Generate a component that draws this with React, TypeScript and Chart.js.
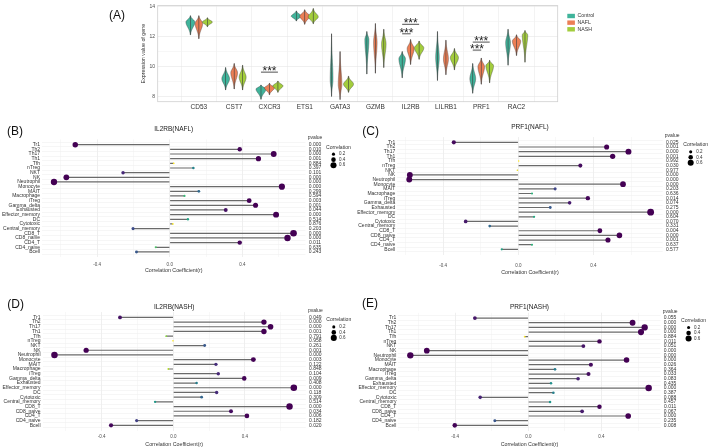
import React, { useEffect, useRef } from "react";
import { Chart, registerables } from "chart.js";
Chart.register(...registerables);

const FONT = "'Liberation Sans', Arial, Helvetica, sans-serif";

// ---------- Panel A data ----------
const genes = ["CD53", "CST7", "CXCR3", "ETS1", "GATA3", "GZMB", "IL2RB", "LILRB1", "PRF1", "RAC2"];
const groups = ["Control", "NAFL", "NASH"];
const groupColors = ["#40B49B", "#EC7F56", "#A3CD3D"];
// [min, mode, max] expression per gene
const controlExpr = [[12.11, 12.96, 13.38], [8.46, 9.2, 9.94], [7.84, 8.52, 8.79], [13.03, 13.35, 13.7], [8.03, 9.15, 12.18], [9.51, 11.8, 12.33], [9.26, 10.53, 11.0], [9.09, 10.6, 12.33], [8.24, 9.2, 10.21], [10.1, 11.6, 12.48]];
const naflExpr = [[11.86, 12.86, 13.38], [8.52, 9.6, 10.21], [8.14, 8.6, 8.9], [12.81, 13.35, 13.77], [7.82, 8.84, 11.0], [9.57, 11.6, 12.86], [10.15, 11.2, 11.8], [9.47, 10.5, 11.76], [8.84, 10.0, 10.57], [10.74, 11.7, 12.11]];
const nashExpr = [[12.65, 12.96, 13.24], [8.46, 9.3, 10.1], [8.3, 8.73, 9.05], [12.85, 13.3, 13.85], [8.3, 8.84, 9.37], [9.94, 11.5, 12.48], [10.49, 11.25, 11.7], [9.79, 10.6, 11.2], [8.94, 10.07, 10.42], [10.3, 12.1, 12.4]];
const exprTicks = [8, 9, 10, 11, 12, 13, 14];
const exprTickLabels = ["8", "", "10", "", "12", "", "14"];
const exprMin = 7.68;
const exprMax = 14.05;
// significance brackets
const sigGene = ["CXCR3", "IL2RB", "IL2RB", "PRF1", "PRF1"];
const sigFrom = [0, 0, 0, 0, 0];
const sigTo = [2, 1, 2, 1, 2];
const sigY = [9.64, 12.18, 12.81, 11.1, 11.63];
const sigLabel = "***";

// ---------- Lollipop data ----------
const cellTypes = ["Tr1", "Th2", "Th17", "Th1", "Tfh", "nTreg", "NKT", "NK", "Neutrophil", "Monocyte", "MAIT", "Macrophage", "iTreg", "Gamma_delta", "Exhausted", "Effector_memory", "DC", "Cytotoxic", "Central_memory", "CD8_T", "CD8_naive", "CD4_T", "CD4_naive", "Bcell"];
const il2rbNaflR = [-0.52, 0.385, 0.572, 0.488, 0.022, 0.13, -0.257, -0.569, -0.637, 0.617, 0.16, 0.081, 0.437, 0.472, 0.308, 0.585, 0.1, 0.017, -0.202, 0.681, 0.648, 0.385, -0.077, -0.183];
const il2rbNaflP = ["0.000", "0.010", "0.000", "0.001", "0.884", "0.397", "0.101", "0.000", "0.000", "0.000", "0.299", "0.594", "0.003", "0.001", "0.044", "0.000", "0.514", "0.876", "0.203", "0.000", "0.000", "0.011", "0.635", "0.243"];
const prf1NaflR = [-0.343, 0.47, 0.586, 0.502, 0.002, 0.33, -0.005, -0.577, -0.58, 0.557, 0.196, 0.073, 0.37, 0.273, 0.17, 0.704, 0.084, -0.28, -0.152, 0.434, 0.538, 0.477, 0.073, -0.088];
const prf1NaflP = ["0.025", "0.001", "0.000", "0.001", "0.992", "0.030", "0.977", "0.000", "0.000", "0.000", "0.203", "0.636", "0.014", "0.074", "0.275", "0.000", "0.604", "0.070", "0.331", "0.004", "0.000", "0.001", "0.637", "0.577"];
const il2rbNashR = [-0.298, 0.506, 0.543, 0.506, -0.04, -0.002, 0.175, -0.487, -0.664, 0.447, 0.238, -0.028, 0.251, 0.396, 0.13, 0.673, 0.242, 0.158, -0.102, 0.649, 0.322, 0.411, -0.205, -0.348];
const il2rbNashP = ["0.049", "0.000", "0.000", "0.001", "0.791", "0.958", "0.261", "0.001", "0.000", "0.003", "0.122", "0.848", "0.104", "0.009", "0.408", "0.000", "0.118", "0.309", "0.514", "0.000", "0.034", "0.006", "0.182", "0.020"];
const prf1NashR = [-0.292, 0.57, 0.636, 0.616, -0.02, 0.389, 0.301, -0.555, -0.645, 0.537, 0.342, 0.146, 0.329, 0.272, 0.124, 0.658, 0.137, -0.263, 0.119, 0.389, 0.294, 0.546, -0.183, -0.402];
const prf1NashP = ["0.055", "0.000", "0.000", "0.000", "0.884", "0.011", "0.051", "0.000", "0.000", "0.000", "0.026", "0.364", "0.033", "0.083", "0.435", "0.000", "0.387", "0.088", "0.457", "0.011", "0.067", "0.000", "0.235", "0.008"];
const corrTicks = [-0.6, -0.4, -0.2, 0, 0.2, 0.4, 0.6];
const corrTickLabels = ["", "-0.4", "", "0.0", "", "0.4", ""];
const corrLegend = [0.2, 0.4, 0.6];

// ---------- helpers ----------
const VIRIDIS = ["#440154", "#482475", "#414487", "#355F8D", "#2A788E", "#21918C", "#22A884", "#44BF70", "#7AD151", "#BDDF26", "#FDE725"];
function hexRgb(h: string) {
  return [parseInt(h.slice(1, 3), 16), parseInt(h.slice(3, 5), 16), parseInt(h.slice(5, 7), 16)];
}
function viridis(t: number) {
  t = Math.max(0, Math.min(1, t));
  const s = t * 10;
  const i = Math.min(9, Math.floor(s));
  const f = s - i;
  const a = hexRgb(VIRIDIS[i]);
  const b = hexRgb(VIRIDIS[i + 1]);
  const c = a.map((v, k) => Math.round(v + (b[k] - v) * f));
  return `rgb(${c[0]},${c[1]},${c[2]})`;
}
const dotRadius = (r: number) => 0.8 + 3.7 * Math.abs(r);

type PanelCfg = {
  key: string; label: string; title: string; r: number[]; p: string[];
  left: number; top: number; W: number; H: number;
  cl: number; cr: number; ct: number; cb: number;
  titleY: number; tickY: number; axTitleY: number; labelX: number; labelY: number;
};

const panels: PanelCfg[] = [
  { key: "B", label: "(B)", title: "IL2RB(NAFL)", r: il2rbNaflR, p: il2rbNaflP, left: 0, top: 115, W: 355, H: 170, cl: 42, cr: 305.5, ct: 24.4, cb: 142.2, titleY: 14, tickY: 150, axTitleY: 155.6, labelX: 7, labelY: 17 },
  { key: "C", label: "(C)", title: "PRF1(NAFL)", r: prf1NaflR, p: prf1NaflP, left: 355, top: 115, W: 354, H: 170, cl: 42.2, cr: 307.7, ct: 22.1, cb: 139.6, titleY: 12.7, tickY: 150.7, axTitleY: 157.7, labelX: 7.3, labelY: 16.7 },
  { key: "D", label: "(D)", title: "IL2RB(NASH)", r: il2rbNashR, p: il2rbNashP, left: 0, top: 285, W: 355, H: 163, cl: 42.5, cr: 305.8, ct: 27.1, cb: 145.6, titleY: 22.7, tickY: 151.7, axTitleY: 159.3, labelX: 7.3, labelY: 20 },
  { key: "E", label: "(E)", title: "PRF1(NASH)", r: prf1NashR, p: prf1NashP, left: 355, top: 285, W: 354, H: 163, cl: 43.4, cr: 305.6, ct: 27.8, cb: 145.6, titleY: 22.7, tickY: 151.7, axTitleY: 159.3, labelX: 7, labelY: 19 },
];

function makeLollipop(canvas: HTMLCanvasElement, cfg: PanelCfg) {
  const n = cellTypes.length;
  const pNum = cfg.p.map(Number);
  const pMax = Math.max(...pNum);
  const lo = Math.min(0, ...cfg.r);
  const hi = Math.max(0, ...cfg.r);
  const span = hi - lo;
  const xMin = lo - 0.05 * span;
  const xMax = hi + 0.05 * span;
  const xAxisH = cfg.H - cfg.cb;
  const tickFont = 4.5;
  const tickPad = cfg.tickY - cfg.cb - (tickFont * 1.2) / 2;
  const axFont = 5.3;
  const axPadB = cfg.H - cfg.axTitleY - (axFont * 1.2) / 2;

  const extras = {
    id: "extras" + cfg.key,
    afterDraw(chart: any) {
      const { ctx, chartArea, scales } = chart;
      const ys = scales.y;
      ctx.save();
      ctx.textBaseline = "middle";
      ctx.fillStyle = "#111";
      ctx.textAlign = "left";
      ctx.font = `12px ${FONT}`;
      ctx.fillText(cfg.label, cfg.labelX, cfg.labelY);
      ctx.textAlign = "center";
      ctx.font = `6.5px ${FONT}`;
      ctx.fillStyle = "#1a1a1a";
      ctx.fillText(cfg.title, (chartArea.left + chartArea.right) / 2, cfg.titleY);
      ctx.font = `5px ${FONT}`;
      ctx.fillStyle = "#333";
      const px = chartArea.right + 9.5;
      const y0 = ys.getPixelForValue(0);
      ctx.fillText("pvalue", px, y0 - 6.8);
      cfg.p.forEach((s, i) => ctx.fillText(s, px, ys.getPixelForValue(i)));
      ctx.textAlign = "left";
      ctx.font = `5.1px ${FONT}`;
      ctx.fillText("Correlation", chartArea.right + 20.5, y0 + 2.5);
      corrLegend.forEach((v, k) => {
        const cy = y0 + 9.5 + k * 5.5;
        const cx = chartArea.right + 28;
        ctx.beginPath();
        ctx.arc(cx, cy, dotRadius(v), 0, Math.PI * 2);
        ctx.fillStyle = "#000";
        ctx.fill();
        ctx.fillStyle = "#333";
        ctx.font = `4.5px ${FONT}`;
        ctx.fillText(v.toFixed(1), cx + 5.5, cy);
      });
      ctx.restore();
    },
  };

  return new Chart(canvas, {
    type: "scatter",
    data: {
      datasets: [
        {
          type: "scatter",
          data: cfg.r.map((v, i) => ({ x: v, y: i })),
          pointRadius: cfg.r.map(dotRadius),
          pointBackgroundColor: pNum.map((p) => viridis(p / pMax)),
          pointBorderWidth: 0,
          order: 0,
        } as any,
        {
          type: "bar",
          indexAxis: "y",
          data: cfg.r.map((v, i) => ({ x: [0, v], y: i })),
          backgroundColor: "#6A6A6A",
          barThickness: 1.2,
          maxBarThickness: 1.2,
          grouped: false,
          borderWidth: 0,
          inflateAmount: 0,
          order: 1,
        } as any,
      ],
    },
    options: {
      responsive: false,
      animation: false,
      devicePixelRatio: 1,
      events: [],
      layout: { padding: { left: 0, right: cfg.W - cfg.cr, top: cfg.ct, bottom: 0 } },
      plugins: { legend: { display: false }, tooltip: { enabled: false }, title: { display: false } },
      scales: {
        x: {
          type: "linear",
          position: "bottom",
          min: xMin,
          max: xMax,
          afterBuildTicks: (s: any) => {
            s.ticks = corrTicks.filter((v) => v >= xMin && v <= xMax).map((v) => ({ value: v }));
          },
          afterFit: (s: any) => {
            s.height = xAxisH;
          },
          ticks: {
            autoSkip: false,
            maxRotation: 0,
            padding: tickPad,
            color: "#4D4D4D",
            font: { family: FONT, size: tickFont },
            callback: (v: any) => corrTickLabels[corrTicks.indexOf(v)] ?? "",
          },
          grid: {
            drawTicks: false,
            color: (c: any) => (corrTickLabels[corrTicks.indexOf(c.tick?.value)] ? "#E8E8E8" : "#F1F1F1"),
            lineWidth: (c: any) => (corrTickLabels[corrTicks.indexOf(c.tick?.value)] ? 0.7 : 0.5),
          },
          border: { display: false },
          title: {
            display: true,
            text: "Correlation Coefficient(r)",
            color: "#333",
            font: { family: FONT, size: axFont },
            padding: { top: 0, bottom: axPadB },
          },
        },
        y: {
          type: "linear",
          min: -0.6,
          max: n - 1 + 0.6,
          reverse: true,
          afterBuildTicks: (s: any) => {
            s.ticks = cellTypes.map((_, i) => ({ value: i }));
          },
          afterFit: (s: any) => {
            s.width = cfg.cl;
          },
          ticks: {
            autoSkip: false,
            padding: 2,
            color: "#333",
            font: { family: FONT, size: 5 },
            callback: (v: any) => cellTypes[v] ?? "",
          },
          grid: { drawTicks: false, color: "#EDEDED", lineWidth: 0.5 },
          border: { display: false },
        },
      },
    } as any,
    plugins: [extras],
  });
}

function makeExpr(canvas: HTMLCanvasElement) {
  const groupsData = [controlExpr, naflExpr, nashExpr];
  const offsets = [-0.24, 0, 0.24];
  const W = 709, H = 115;
  const cl = 157.7, cr = 557.7, ct = 1.5, cb = 101.7;
  const yAxisW = 22;
  const xFont = 6.5;

  const violins = {
    id: "violins",
    beforeDatasetsDraw(chart: any) {
      const { ctx, scales } = chart;
      const xs = scales.x, ys = scales.y;
      ctx.save();
      groupsData.forEach((arr, g) =>
        arr.forEach((d, i) => {
          const cx = xs.getPixelForValue(i + offsets[g]);
          const [mn, md, mx] = d;
          const halfW = Math.min(5, 5.7 / (mx - mn));
          const N = 48;
          const pts: [number, number][] = [];
          for (let k = 0; k <= N; k++) {
            const v = mx - ((mx - mn) * k) / N;
            const t = v >= md ? (v - md) / Math.max(1e-6, mx - md) : (md - v) / Math.max(1e-6, md - mn);
            const w = halfW * Math.exp(-3.2 * t * t);
            pts.push([w, ys.getPixelForValue(v)]);
          }
          ctx.beginPath();
          pts.forEach(([w, y], k) => (k === 0 ? ctx.moveTo(cx + w, y) : ctx.lineTo(cx + w, y)));
          for (let k = pts.length - 1; k >= 0; k--) ctx.lineTo(cx - pts[k][0], pts[k][1]);
          ctx.closePath();
          ctx.fillStyle = groupColors[g];
          ctx.fill();
          ctx.strokeStyle = "#3a3a3a";
          ctx.lineWidth = 0.4;
          ctx.stroke();
        })
      );
      ctx.restore();
    },
    afterDatasetsDraw(chart: any) {
      const { ctx, scales } = chart;
      const xs = scales.x, ys = scales.y;
      ctx.save();
      sigGene.forEach((gname, k) => {
        const i = genes.indexOf(gname);
        const x1 = xs.getPixelForValue(i + offsets[sigFrom[k]]);
        const x2 = xs.getPixelForValue(i + offsets[sigTo[k]]);
        const y = ys.getPixelForValue(sigY[k]);
        ctx.beginPath();
        ctx.moveTo(x1, y);
        ctx.lineTo(x2, y);
        ctx.strokeStyle = "#222";
        ctx.lineWidth = 0.8;
        ctx.stroke();
        ctx.fillStyle = "#222";
        ctx.font = `12px ${FONT}`;
        ctx.textAlign = "center";
        ctx.textBaseline = "alphabetic";
        ctx.fillText(sigLabel, (x1 + x2) / 2, y + 3);
      });
      ctx.restore();
    },
    afterDraw(chart: any) {
      const { ctx, chartArea } = chart;
      ctx.save();
      ctx.strokeStyle = "#CFCFCF";
      ctx.lineWidth = 0.8;
      ctx.strokeRect(chartArea.left, chartArea.top, chartArea.right - chartArea.left, chartArea.bottom - chartArea.top);
      ctx.fillStyle = "#111";
      ctx.font = `12px ${FONT}`;
      ctx.textAlign = "left";
      ctx.textBaseline = "middle";
      ctx.fillText("(A)", 109, 16);
      groups.forEach((gname, g) => {
        const y = 16 + g * 6.65;
        ctx.fillStyle = groupColors[g];
        ctx.fillRect(567.3, y - 2.2, 7.6, 4.4);
        ctx.fillStyle = "#333";
        ctx.font = `5.2px ${FONT}`;
        ctx.fillText(gname, 577.5, y);
      });
      ctx.restore();
    },
  };

  return new Chart(canvas, {
    type: "scatter",
    data: {
      datasets: groupsData.map((arr, g) => ({
        type: "bar",
        label: groups[g],
        data: arr.map((d, i) => ({ x: i + offsets[g], y: [d[0], d[2]] })),
        backgroundColor: "#3d3d3d",
        barThickness: 0.6,
        grouped: false,
        borderWidth: 0,
        inflateAmount: 0,
      })) as any,
    },
    options: {
      responsive: false,
      animation: false,
      devicePixelRatio: 1,
      events: [],
      layout: { padding: { left: cl - yAxisW, right: W - cr, top: ct, bottom: 0 } },
      plugins: { legend: { display: false }, tooltip: { enabled: false } },
      scales: {
        x: {
          type: "linear",
          position: "bottom",
          min: -0.6,
          max: genes.length - 1 + 0.6,
          afterBuildTicks: (s: any) => {
            s.ticks = genes.map((_, i) => ({ value: i }));
          },
          afterFit: (s: any) => {
            s.height = H - cb;
          },
          ticks: {
            autoSkip: false,
            maxRotation: 0,
            padding: 107 - cb - (xFont * 1.2) / 2,
            color: "#333",
            font: { family: FONT, size: xFont },
            callback: (v: any) => genes[v] ?? "",
          },
          grid: { drawTicks: false, color: "#EBEBEB", lineWidth: 0.6 },
          border: { display: false },
        },
        y: {
          type: "linear",
          min: exprMin,
          max: exprMax,
          afterBuildTicks: (s: any) => {
            s.ticks = exprTicks.map((v) => ({ value: v }));
          },
          afterFit: (s: any) => {
            s.width = yAxisW;
          },
          ticks: {
            autoSkip: false,
            padding: 2.6,
            color: "#4D4D4D",
            font: { family: FONT, size: 5 },
            callback: (v: any) => exprTickLabels[exprTicks.indexOf(v)] ?? "",
          },
          grid: {
            drawTicks: false,
            color: (c: any) => (exprTickLabels[exprTicks.indexOf(c.tick?.value)] ? "#E6E6E6" : "#F2F2F2"),
            lineWidth: 0.6,
          },
          border: { display: false },
          title: {
            display: true,
            text: "Expression value of gene",
            color: "#333",
            font: { family: FONT, size: 5.3 },
            padding: { top: 4.4, bottom: 0 },
          },
        },
      },
    } as any,
    plugins: [violins],
  });
}

function ExprPanel() {
  const ref = useRef<HTMLCanvasElement>(null);
  useEffect(() => {
    const c = makeExpr(ref.current!);
    return () => c.destroy();
  }, []);
  return <canvas ref={ref} width={709} height={115} style={{ position: "absolute", left: 0, top: 0, width: 709, height: 115 }} />;
}

function LollipopPanel({ cfg }: { cfg: PanelCfg }) {
  const ref = useRef<HTMLCanvasElement>(null);
  useEffect(() => {
    const c = makeLollipop(ref.current!, cfg);
    return () => c.destroy();
  }, [cfg]);
  return (
    <canvas
      ref={ref}
      width={cfg.W}
      height={cfg.H}
      style={{ position: "absolute", left: cfg.left, top: cfg.top, width: cfg.W, height: cfg.H }}
    />
  );
}

export default function App() {
  return (
    <div style={{ position: "absolute", left: 0, top: 0, width: 709, height: 448, background: "#fff", overflow: "hidden" }}>
      <ExprPanel />
      {panels.map((p) => (
        <LollipopPanel key={p.key} cfg={p} />
      ))}
    </div>
  );
}
